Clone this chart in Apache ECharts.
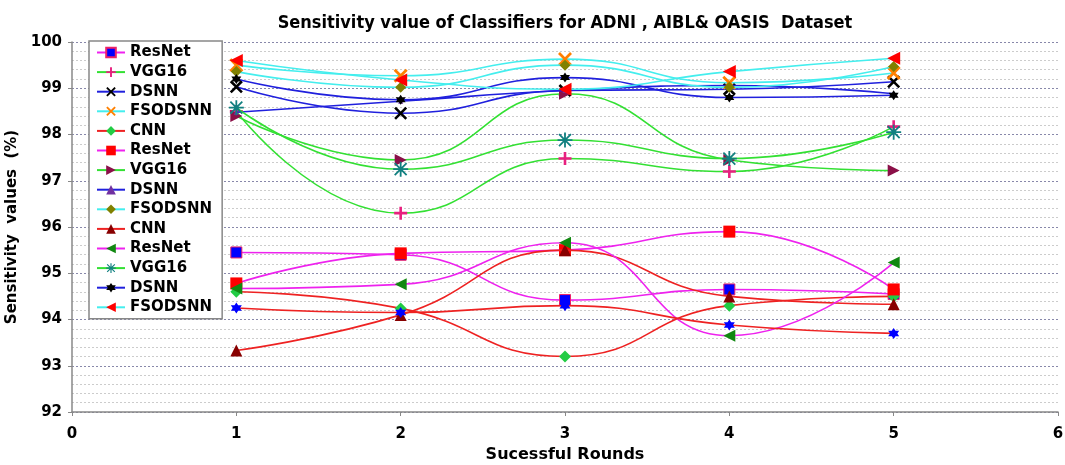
<!DOCTYPE html>
<html>
<head>
<meta charset="utf-8">
<script src="https://cdn.jsdelivr.net/npm/echarts@6/dist/echarts.min.js"></script>
<style>
html,body{margin:0;padding:0;background:#fff;}
#c{width:1065px;height:465px;}
</style>
</head>
<body>
<div id="c"></div>
<script>
// ---------- data ----------
const rounds = [1, 2, 3, 4, 5];
const xTicks = [0, 1, 2, 3, 4, 5, 6];
const yTicks = [92, 93, 94, 95, 96, 97, 98, 99, 100];

const seriesNames = ['ResNet', 'VGG16', 'DSNN', 'FSODSNN', 'CNN',
                     'ResNet', 'VGG16', 'DSNN', 'FSODSNN', 'CNN',
                     'ResNet', 'VGG16', 'DSNN', 'FSODSNN', 'CNN'];

// group 1
const resnet1 = [95.45, 95.40, 94.42, 94.65, 94.55];
const vgg1    = [98.50, 96.30, 97.48, 97.20, 98.17];
const dsnn1   = [99.03, 98.46, 98.95, 98.98, 99.14];
const fso1    = [99.50, 99.27, 99.63, 99.12, 99.33];
const cnn1    = [94.60, 94.24, 93.20, 94.30, 94.50];
// group 2
const resnet2 = [94.78, 95.43, 95.50, 95.90, 94.65];
const vgg2    = [98.40, 97.45, 98.88, 97.45, 97.22];
const dsnn2   = [98.48, 98.72, 98.95, 99.06, 98.88];
const fso2    = [99.36, 99.02, 99.50, 99.02, 99.47];
const cnn2    = [93.33, 94.10, 95.50, 94.50, 94.33];
// group 3
const resnet3 = [94.67, 94.76, 95.66, 93.65, 95.23];
const vgg3    = [98.58, 97.25, 97.88, 97.48, 98.05];
const dsnn3   = [99.20, 98.75, 99.23, 98.80, 98.85];
const fso3    = [99.60, 99.18, 98.98, 99.36, 99.65];
const cnn3    = [94.25, 94.15, 94.30, 93.88, 93.70];

const allValues = [resnet1, vgg1, dsnn1, fso1, cnn1,
                   resnet2, vgg2, dsnn2, fso2, cnn2,
                   resnet3, vgg3, dsnn3, fso3, cnn3];

// ---------- styles ----------
const P_PLUS = 'path://M4,0 L6,0 L6,4 L10,4 L10,6 L6,6 L6,10 L4,10 L4,6 L0,6 L0,4 L4,4 Z';
const P_X = 'path://M0,1.4 L1.4,0 L10,8.6 L8.6,10 Z M8.6,0 L10,1.4 L1.4,10 L0,8.6 Z';
const P_AST = 'path://M0,4.4 L10,4.4 L10,5.6 L0,5.6 Z M5.6,0 L5.6,10 L4.4,10 L4.4,0 Z M0.6,1.45 L1.45,0.6 L9.4,8.55 L8.55,9.4 Z M8.55,0.6 L9.4,1.45 L1.45,9.4 L0.6,8.55 Z';
const P_HEX = 'path://M5,0 L6.44,2.5 L9.33,2.5 L7.89,5 L9.33,7.5 L6.44,7.5 L5,10 L3.56,7.5 L0.67,7.5 L2.11,5 L0.67,2.5 L3.56,2.5 Z';

const MAG = '#ee22ee', GRN = '#33e033', BLU = '#2020dd', CYN = '#44eeee', RED = '#ee2222';

const styles = [
  {line: MAG, symbol: 'rect', size: 11, fill: '#0000ff', border: '#ee2266', bw: 1},
  {line: GRN, symbol: P_PLUS, size: 13, fill: '#e8207f'},
  {line: BLU, symbol: P_X, size: 13, fill: '#000000'},
  {line: CYN, symbol: P_X, size: 14, fill: '#ff8000'},
  {line: RED, symbol: 'diamond', size: 12, fill: '#22cc44'},
  {line: MAG, symbol: 'rect', size: 12, fill: '#ff0000'},
  {line: GRN, symbol: 'triangle', size: 12, fill: '#8b1048', rotate: -90},
  {line: BLU, symbol: 'triangle', size: 5, fill: '#7030a0'},
  {line: CYN, symbol: 'diamond', size: 11, fill: '#808000'},
  {line: RED, symbol: 'triangle', size: 12, fill: '#880000'},
  {line: MAG, symbol: 'triangle', size: 12, fill: '#118811', rotate: 90},
  {line: GRN, symbol: P_AST, size: 15, fill: '#118080'},
  {line: BLU, symbol: P_HEX, size: 10, fill: '#000000'},
  {line: CYN, symbol: 'triangle', size: 13, fill: '#ff0000', rotate: 90},
  {line: RED, symbol: P_HEX, size: 11, fill: '#0000ff'}
];

// unique legend names (zero-width chars keep duplicates separate)
const uniqNames = seriesNames.map((n, i) => n + '\u200b'.repeat(Math.floor(i / 5)));

const series = allValues.map((vals, i) => {
  const s = styles[i];
  return {
    name: uniqNames[i],
    type: 'line',
    smooth: 0.5,
    data: rounds.map((r, k) => [r, vals[k]]),
    symbol: s.symbol,
    symbolSize: s.size,
    symbolRotate: s.rotate || 0,
    showAllSymbol: true,
    lineStyle: {color: s.line, width: 1.6},
    itemStyle: {color: s.fill, borderColor: s.border || s.fill, borderWidth: s.bw || 0},
    emphasis: {disabled: true},
    z: 2 + i
  };
});

const FONT = 'DejaVu Sans';
const chart = echarts.init(document.getElementById('c'), null, {renderer: 'canvas'});
chart.setOption({
  animation: false,
  backgroundColor: '#ffffff',
  title: {
    text: 'Sensitivity value of Classifiers for ADNI , AIBL& OASIS  Dataset',
    left: 560, top: 9, textAlign: 'center',
    textStyle: {fontFamily: 'DejaVu Sans Condensed, ' + FONT, fontWeight: 'bold', fontSize: 18, color: '#000'}
  },
  legend: {
    data: uniqNames.slice(0, 14),
    orient: 'vertical',
    left: 89, top: 41,
    padding: [4, 10, 4, 7],
    itemWidth: 28, itemHeight: 12, itemGap: 4.6,
    backgroundColor: '#ffffff',
    borderColor: '#888888', borderWidth: 1.5,
    textStyle: {fontFamily: FONT, fontWeight: 'bold', fontSize: 15, color: '#000'},
    selectedMode: false
  },
  grid: {left: 72, right: 7, top: 42, bottom: 53, outerBoundsMode: 'none', containLabel: false},
  xAxis: {
    type: 'value', min: xTicks[0], max: xTicks[xTicks.length - 1], interval: 1,
    name: 'Sucessful Rounds', nameLocation: 'middle', nameGap: 33,
    nameTextStyle: {fontFamily: FONT, fontWeight: 'bold', fontSize: 16, color: '#000'},
    axisLine: {lineStyle: {color: '#888', width: 1.5}},
    axisTick: {show: true, length: 4, lineStyle: {color: '#888'}},
    axisLabel: {fontFamily: FONT, fontWeight: 'bold', fontSize: 15, color: '#000', margin: 15},
    splitLine: {show: false}
  },
  yAxis: {
    type: 'value', min: yTicks[0], max: yTicks[yTicks.length - 1], interval: 1,
    name: 'Sensitivity  values  (%)', nameLocation: 'middle', nameGap: 42,
    nameTextStyle: {fontFamily: FONT, fontWeight: 'bold', fontSize: 15, color: '#000'},
    axisLine: {show: true, lineStyle: {color: '#888', width: 1.5}},
    axisTick: {show: true, length: 4, lineStyle: {color: '#888'}},
    axisLabel: {fontFamily: FONT, fontWeight: 'bold', fontSize: 15, color: '#000', margin: 10},
    splitLine: {show: true, lineStyle: {color: '#8888aa', type: [2, 2], width: 1}},
    minorTick: {show: false, splitNumber: 5},
    minorSplitLine: {show: true, lineStyle: {color: '#cccccc', type: [2, 2], width: 1}}
  },
  series: series
});
</script>
</body>
</html>
